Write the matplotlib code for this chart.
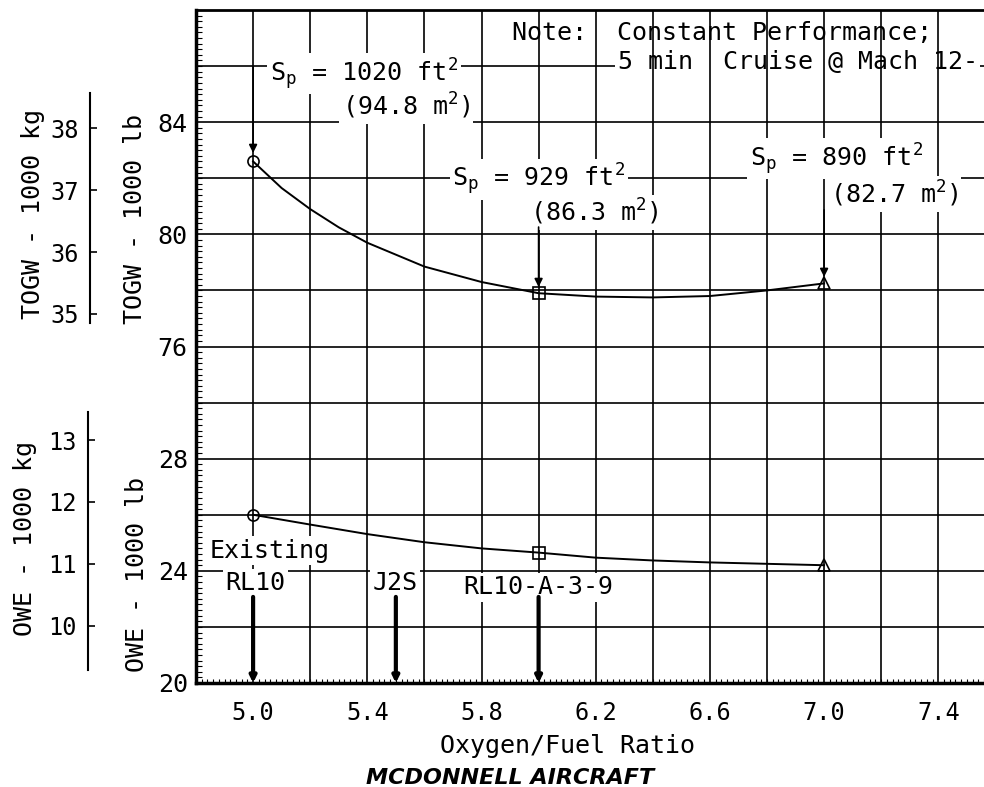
import numpy as np
import matplotlib
matplotlib.use('Agg')
import matplotlib.pyplot as plt
from matplotlib.ticker import MultipleLocator

plt.rcParams['font.family'] = ['DejaVu Sans Mono']
plt.rcParams['mathtext.fontset'] = 'custom'
plt.rcParams['mathtext.rm'] = 'DejaVu Sans Mono'
plt.rcParams['mathtext.it'] = 'DejaVu Sans Mono'
plt.rcParams['mathtext.default'] = 'rm'

# design points (oxygen/fuel ratio)
of_ratio = [5.0, 6.0, 7.0]
togw_klb = [82.6, 77.9, 78.25]
owe_klb = [26.0, 24.65, 24.2]
point_markers = ['o', 's', '^']

# faired curves
togw_curve_of = [5.0, 5.1, 5.2, 5.3, 5.4, 5.6, 5.8, 6.0, 6.2, 6.4, 6.6, 6.8, 7.0]
togw_curve = [82.6, 81.65, 80.9, 80.25, 79.7, 78.85, 78.3, 77.9, 77.78, 77.75, 77.8, 78.0, 78.25]
owe_curve_of = [5.0, 5.2, 5.4, 5.6, 5.8, 6.0, 6.2, 6.4, 6.6, 6.8, 7.0]
owe_curve = [26.0, 25.65, 25.31, 25.02, 24.8, 24.65, 24.47, 24.37, 24.3, 24.25, 24.2]

# planform area labels
sp_ft2 = ['1020', '929', '890']
sp_m2 = ['94.8', '86.3', '82.7']

# engines marked along the x axis
engine_of = [5.0, 5.5, 6.0]

togw_ticks_lb = [76, 80, 84]
owe_ticks_lb = [20, 24, 28]
togw_ticks_kg = [35, 36, 37, 38]
owe_ticks_kg = [10, 11, 12, 13]
x_ticks = [5.0, 5.4, 5.8, 6.2, 6.6, 7.0, 7.4]

LB_PER_KG = 2.20462
# TOGW shares the grid with OWE: TOGW 76 sits where OWE 32 would be
TOGW_SHIFT = 44

W, H = 984, 787


def fx(px):
    return px / W


def fy(py):
    return 1 - py / H


fig = plt.figure(figsize=(W / 100, H / 100), dpi=100, facecolor='white')
ax = fig.add_axes([fx(196), fy(683), fx(984) - fx(196), fy(10) - fy(683)])
ax.set_xlim(4.8, 4.8 + 788 / 285.5)
ax.set_ylim(20, 44)

# graph paper grid
for gx in np.arange(5.0, 7.5, 0.2):
    ax.axvline(gx, color='k', lw=1.2, zorder=2)
for gy in np.arange(22, 44, 2):
    ax.axhline(gy, color='k', lw=1.2, zorder=1)

ax.set_xticks(x_ticks)
ax.set_xticklabels(['%.1f' % v for v in x_ticks])
ax.set_yticks(owe_ticks_lb + [v - TOGW_SHIFT for v in togw_ticks_lb])
ax.set_yticklabels([str(v) for v in owe_ticks_lb + togw_ticks_lb])
ax.xaxis.set_minor_locator(MultipleLocator(0.02))
ax.yaxis.set_minor_locator(MultipleLocator(0.2))
ax.tick_params(which='major', length=0)
ax.tick_params(axis='x', which='major', pad=13, labelsize=17)
ax.tick_params(axis='y', which='major', pad=6, labelsize=18)
ax.tick_params(which='minor', direction='in', width=0.8)
ax.tick_params(axis='y', which='minor', length=4)
ax.tick_params(axis='x', which='minor', length=3)

ax.spines['right'].set_visible(False)
ax.spines['left'].set_linewidth(2.5)
ax.spines['bottom'].set_linewidth(2.5)
ax.spines['top'].set_linewidth(2.0)

# curves and points
ax.plot(togw_curve_of, np.array(togw_curve) - TOGW_SHIFT, color='k', lw=1.4, zorder=4)
ax.plot(owe_curve_of, owe_curve, color='k', lw=1.4, zorder=4)
for x, t, o, m in zip(of_ratio, togw_klb, owe_klb, point_markers):
    ax.plot(x, t - TOGW_SHIFT, marker=m, ms=8, mfc='none', mec='k', mew=1.2, zorder=5)
    ax.plot(x, o, marker=m, ms=8, mfc='none', mec='k', mew=1.2, zorder=5)

box = dict(boxstyle='square,pad=0.1', fc='white', ec='none')

# planform area call-outs: (label x, label y, metric x, metric y, arrow top, arrow tip)
sp_layout = [(5.059, 41.72, 5.311, 40.58, 41.97, 38.9),
             (5.697, 37.97, 5.970, 36.79, 36.26, 34.12),
             (6.740, 38.70, 7.021, 37.44, 36.87, 34.48)]
for x, ft2, m2, lay in zip(of_ratio, sp_ft2, sp_m2, sp_layout):
    ax.text(lay[0], lay[1], 'S$_p$ = ' + ft2 + ' ft$^2$', fontsize=18,
            ha='left', va='center', bbox=box, zorder=3)
    ax.text(lay[2], lay[3], '(' + m2 + ' m$^2$)', fontsize=18,
            ha='left', va='center', bbox=box, zorder=3)
    ax.annotate('', xy=(x, lay[5]), xytext=(x, lay[4]),
                arrowprops=dict(arrowstyle='-|>', color='k', lw=1.2,
                                mutation_scale=12, shrinkA=0, shrinkB=0), zorder=6)

# note in the upper right
ax.text(5.907, 43.18, 'Note:  Constant Performance;', fontsize=18,
        ha='left', va='center', bbox=box, zorder=1.5)
ax.text(6.278, 42.15, '5 min  Cruise @ Mach 12-', fontsize=18,
        ha='left', va='center', bbox=box, zorder=1.5)

# engine markers along the bottom
ax.text(5.059, 24.71, 'Existing', fontsize=18, ha='center', va='center', bbox=box, zorder=3)
ax.text(5.007, 23.56, 'RL10', fontsize=18, ha='center', va='center', bbox=box, zorder=3)
ax.text(5.497, 23.56, 'J2S', fontsize=18, ha='center', va='center', bbox=box, zorder=3)
ax.text(5.998, 23.42, 'RL10-A-3-9', fontsize=18, ha='center', va='center', bbox=box, zorder=3)
for x in engine_of:
    ax.annotate('', xy=(x, 20.0), xytext=(x, 23.07),
                arrowprops=dict(arrowstyle='-|>', color='k', lw=3,
                                mutation_scale=9, shrinkA=0, shrinkB=0), zorder=6)

ax.set_xlabel('Oxygen/Fuel Ratio', fontsize=18)
ax.xaxis.set_label_coords((568 - 196) / 788, (683 - 734) / 673)


def kg_axis(px, ticks_kg, shift, lo, hi):
    a = fig.add_axes([fx(px), fy(683), 0.01, fy(10) - fy(683)])
    a.set_ylim(20, 44)
    a.patch.set_visible(False)
    for s in ['top', 'right', 'bottom']:
        a.spines[s].set_visible(False)
    a.spines['left'].set_bounds(lo, hi)
    a.spines['left'].set_linewidth(1.5)
    a.set_xticks([])
    a.set_yticks([k * LB_PER_KG - shift for k in ticks_kg])
    a.set_yticklabels([str(k) for k in ticks_kg])
    a.tick_params(axis='y', direction='in', length=5, width=1.2, pad=8, labelsize=17)
    return a


kg_axis(90, togw_ticks_kg, TOGW_SHIFT, 32.84, 41.04)
kg_axis(88, owe_ticks_kg, 0, 20.46, 29.67)

fig.text(fx(33), fy(214), 'TOGW - 1000 kg', rotation=90, fontsize=18, ha='center', va='center')
fig.text(fx(135), fy(219), 'TOGW - 1000 lb', rotation=90, fontsize=18, ha='center', va='center')
fig.text(fx(25), fy(538), 'OWE - 1000 kg', rotation=90, fontsize=18, ha='center', va='center')
fig.text(fx(137), fy(575), 'OWE - 1000 lb', rotation=90, fontsize=18, ha='center', va='center')

fig.text(fx(510), fy(778), 'MCDONNELL AIRCRAFT', fontsize=16, family='DejaVu Sans',
         weight='bold', style='italic', ha='center', va='center')

fig.savefig('out.png', dpi=100)
